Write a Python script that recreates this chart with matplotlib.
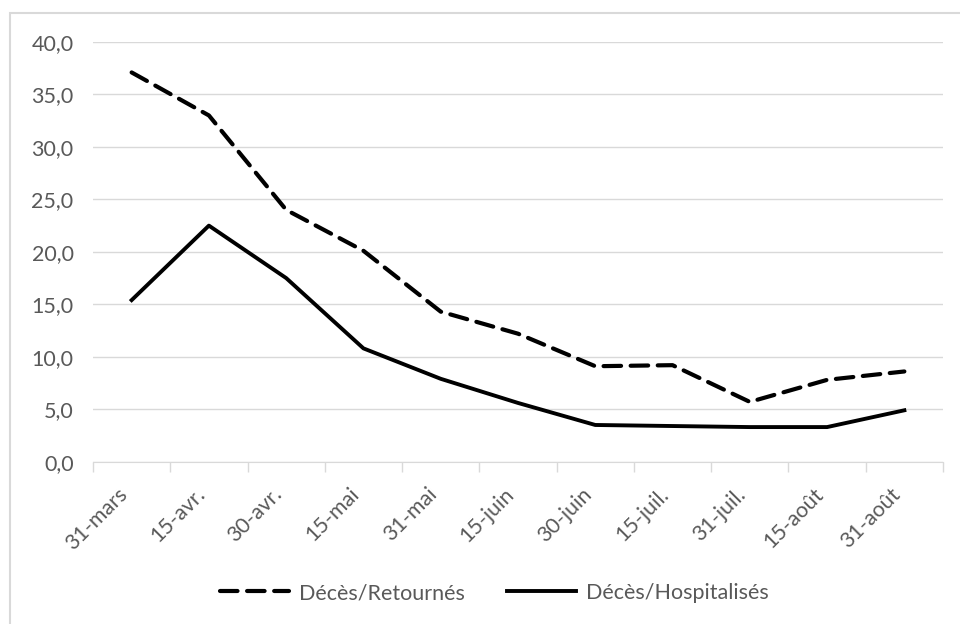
import matplotlib.pyplot as plt
import numpy as np
from matplotlib.patches import Rectangle

dates = ['31-mars', '15-avr.', '30-avr.', '15-mai', '31-mai', '15-juin',
         '30-juin', '15-juil.', '31-juil.', '15-août', '31-août']
retournes = [37.1, 33.0, 24.0, 20.1, 14.3, 12.2, 9.1, 9.2, 5.7, 7.8, 8.6]
hospitalises = [15.4, 22.5, 17.5, 10.8, 7.9, 5.6, 3.5, 3.4, 3.3, 3.3, 4.9]
yticks = np.arange(0, 45, 5)

plt.rcParams['font.family'] = ['Lato', 'DejaVu Sans']

fig = plt.figure(figsize=(9.6, 6.24), dpi=100)
fig.patches.append(Rectangle((10/960, -0.1), 1.2, 1 - 13/624 + 0.1, transform=fig.transFigure,
                             fill=False, edgecolor='#d9d9d9', linewidth=1.5))

ax = fig.add_axes([93/960, 1 - 461.7/624, 850/960, (461.7 - 42)/624])
x = np.arange(len(dates))

ax.plot(x, retournes, color='black', lw=3, ls=(0, (4.2, 2.3)),
        dash_capstyle='round', solid_joinstyle='round', label='Décès/Retournés')
ax.plot(x, hospitalises, color='black', lw=2.8, solid_joinstyle='round',
        label='Décès/Hospitalisés')

ax.set_xlim(-0.5, len(dates) - 0.5)
ax.set_ylim(0, 40)
ax.set_yticks(yticks)
ax.set_yticklabels([f'{v:.1f}'.replace('.', ',') for v in yticks])
ax.grid(axis='y', color='#d9d9d9', lw=1)
ax.set_axisbelow(True)

ax.set_xticks(x)
ax.set_xticklabels(dates, rotation=45, ha='right', va='top')
ax.set_xticks(np.arange(-0.5, len(dates)), minor=True)
ax.tick_params(axis='x', which='major', length=0, pad=16, labelsize=15.5, labelcolor='#595959')
ax.tick_params(axis='x', which='minor', length=7, color='#d9d9d9', width=1)
ax.tick_params(axis='y', length=0, pad=14, labelsize=15.5, labelcolor='#595959')

for s in ['top', 'right', 'left']:
    ax.spines[s].set_visible(False)
ax.spines['bottom'].set_color('#d9d9d9')

leg = fig.legend(loc='center', bbox_to_anchor=(0.515, 1 - 593/624), ncol=2, frameon=False,
                 fontsize=15.5, handlelength=3.2, columnspacing=2.0, handletextpad=0.45)
for t in leg.get_texts():
    t.set_color('#595959')

plt.savefig('out.png', dpi=100)
